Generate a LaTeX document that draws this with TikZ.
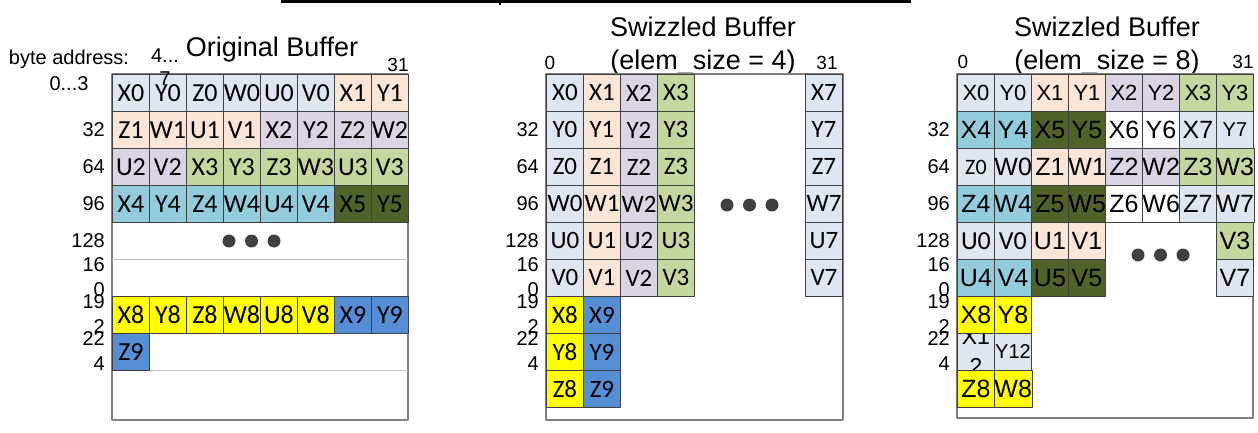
\documentclass[tikz,border=0pt]{standalone}
\usepackage{fontspec}
\setmainfont{Liberation Sans}
\newfontfamily\calfont{Carlito}
\definecolor{cblue}{HTML}{DEE6F2}
\definecolor{cpeach}{HTML}{FBE5D6}
\definecolor{clilac}{HTML}{DAD4E4}
\definecolor{cgreen}{HTML}{C4D79E}
\definecolor{caqua}{HTML}{93CDDD}
\definecolor{cdark}{HTML}{4F6228}
\definecolor{cyell}{HTML}{FFFF00}
\definecolor{cnavy}{HTML}{558ED5}
\definecolor{cellline}{HTML}{404040}
\definecolor{framegray}{HTML}{808080}
\definecolor{gridgray}{HTML}{C0C0C0}
\definecolor{dotgray}{HTML}{404040}

% one row of cells: [style]{prefix}{x0}{row}{first column}{fill}{labels}
\newcommand\cellrow[7][cell]{%
  \foreach \lab [count=\col from #5] in {#7}
    \node[#1,fill=#6] (#2-\col-#4) at (#3+37*\col,74+37*#4) {\lab};}

\begin{document}
\begin{tikzpicture}[x=1pt,y=-1pt,line join=round,
  cell/.style={draw=cellline,line width=0.9pt,minimum width=37pt,
    minimum height=37pt,inner sep=0pt,anchor=north west,
    font=\calfont\fontsize{26}{26}\selectfont},
  mcell/.style={cell,font=\calfont\fontsize{25}{25}\selectfont},
  acell/.style={cell,font=\fontsize{25}{25}\selectfont},
  rsmall/.style={cell,font=\fontsize{22}{22}\selectfont},
  addr/.style={anchor=east,align=right,inner sep=0pt,
    font=\fontsize{20}{25}\selectfont},
  idx/.style={inner sep=0pt,font=\fontsize{19}{19}\selectfont},
  title/.style={anchor=base,inner sep=0pt,font=\fontsize{27}{33}\selectfont},
  title2/.style={align=center,inner sep=0pt,font=\fontsize{27}{33}\selectfont},
  frame/.style={draw=framegray,line width=1.2pt},
  dot/.style={fill=dotgray}]
\useasboundingbox (0,0) rectangle (1258,433);

% cut off heading rule
\draw[line width=3pt] (281,2) -- (911,2);
\draw[line width=2pt] (500,2) -- (500,5.5);

% titles
\node[title] (orig) at (272,57) {Original Buffer};
\node[title2] (swz4) at (703,46.5) {Swizzled Buffer\\(elem\_size = 4)};
\node[title2] (swz8) at (1107,46.5) {Swizzled Buffer\\(elem\_size = 8)};

% frames
\draw[frame] (112,74) rectangle (408,420);
\draw[draw=gridgray,line width=1pt] (112,259) -- (408,259);
\draw[draw=gridgray,line width=1pt] (112,370) -- (408,370);
\draw[frame] (546,74) rectangle (843,420);
\draw[frame] (957,74) rectangle (1253,418);

% original buffer
\cellrow{o}{112}{0}{0}{cblue}{X0,Y0,Z0,W0,U0,V0}
\cellrow{o}{112}{0}{6}{cpeach}{X1,Y1}
\cellrow{o}{112}{1}{0}{cpeach}{Z1,W1,U1,V1}
\cellrow{o}{112}{1}{4}{clilac}{X2,Y2,Z2,W2}
\cellrow{o}{112}{2}{0}{clilac}{U2,V2}
\cellrow{o}{112}{2}{2}{cgreen}{X3,Y3,Z3,W3,U3,V3}
\cellrow{o}{112}{3}{0}{caqua}{X4,Y4,Z4,W4,U4,V4}
\cellrow{o}{112}{3}{6}{cdark}{X5,Y5}
\cellrow{o}{112}{6}{0}{cyell}{X8,Y8,Z8,W8,U8,V8}
\cellrow{o}{112}{6}{6}{cnavy}{X9,Y9}
\cellrow{o}{112}{7}{0}{cnavy}{Z9}

% swizzled, elem_size = 4
\foreach \f [count=\col from 0] in {cblue,cpeach,clilac,cgreen}
  \foreach \ltr [count=\r from 0] in {X,Y,Z,W,U,V}
    \node[mcell,fill=\f] (m-\col-\r) at (546+37*\col,74+37*\r) {\ltr\col};
\foreach \ltr [count=\r from 0] in {X,Y,Z,W,U,V}
  \node[mcell,fill=cblue] (m-7-\r) at (805,74+37*\r) {\ltr7};
\foreach \ltr [count=\r from 6] in {X,Y,Z}{
  \node[mcell,fill=cyell] (m-0-\r) at (546,74+37*\r) {\ltr8};
  \node[mcell,fill=cnavy] (m-1-\r) at (583,74+37*\r) {\ltr9};
}

% swizzled, elem_size = 8
\node[acell,fill=cblue] (r-0-7) at (957,333) {};
\node[align=center,inner sep=0pt,font=\fontsize{23}{30}\selectfont] (x12)
  at (r-0-7.center) {X1\\2};
\node[rsmall,fill=cblue,font=\fontsize{20}{20}\selectfont] (r-1-7)
  at (994,333) {Y12};
\cellrow[rsmall]{r}{957}{0}{0}{cblue}{X0,Y0}
\cellrow[rsmall]{r}{957}{0}{2}{cpeach}{X1,Y1}
\cellrow[rsmall]{r}{957}{0}{4}{clilac}{X2,Y2}
\cellrow[rsmall]{r}{957}{0}{6}{cgreen}{X3,Y3}
\cellrow[acell]{r}{957}{1}{0}{caqua}{X4,Y4}
\cellrow[acell]{r}{957}{1}{2}{cdark}{X5,Y5}
\cellrow[acell]{r}{957}{1}{4}{white}{X6,Y6}
\cellrow[acell]{r}{957}{1}{6}{cblue}{X7,{\fontsize{20}{20}\selectfont Y7}}
\cellrow[acell]{r}{957}{2}{0}{cblue}{{\calfont\fontsize{22}{22}\selectfont Z0},W0}
\cellrow[acell]{r}{957}{2}{2}{cpeach}{Z1,W1}
\cellrow[acell]{r}{957}{2}{4}{clilac}{Z2,W2}
\cellrow[acell]{r}{957}{2}{6}{cgreen}{Z3,W3}
\cellrow[acell]{r}{957}{3}{0}{caqua}{Z4,W4}
\cellrow[acell]{r}{957}{3}{2}{cdark}{Z5,W5}
\cellrow[acell]{r}{957}{3}{4}{white}{Z6,W6}
\cellrow[acell]{r}{957}{3}{6}{cblue}{Z7,W7}
\cellrow{r}{957}{4}{0}{cblue}{U0,V0}
\cellrow[acell]{r}{957}{4}{2}{cpeach}{U1,V1}
\cellrow[acell]{r}{957}{4}{7}{cgreen}{V3}
\cellrow[acell]{r}{957}{5}{0}{caqua}{U4,V4}
\cellrow[acell]{r}{957}{5}{2}{cdark}{U5,V5}
\cellrow[acell]{r}{957}{5}{7}{cblue}{V7}
\cellrow[acell]{r}{957}{6}{0}{cyell}{X8,Y8}
\cellrow[acell]{r}{957}{8}{0}{cyell}{Z8,W8}

% ellipsis dots
\foreach \x/\y in {229/241,727/205,1138/255}
  \foreach \d in {0,22.5,45}
    \fill[dot] (\x+\d,\y) circle (6.5pt);

% byte addresses
\foreach \ox in {112,546,957}
  \foreach \lab [count=\r] in {32,64,96,128,{16\\0},{19\\2},{22\\4}}
    \node[addr] (a-\ox-\r) at (\ox-7,92.5+37*\r) {\lab};
\node[align=center,font=\fontsize{20}{26}\selectfont] (byte) at (69,70)
  {byte address:\\0...3};
\node[align=center,inner sep=0pt,font=\fontsize{20}{23}\selectfont] (b47)
  at (165,67) {4...\\7};
\node[idx] (o31) at (398,65) {31};
\node[idx] (m0) at (550,63) {0};
\node[idx] (m31) at (827,63) {31};
\node[idx] (r0) at (963,62) {0};
\node[idx] (r31) at (1243,62) {31};
\end{tikzpicture}
\end{document}
